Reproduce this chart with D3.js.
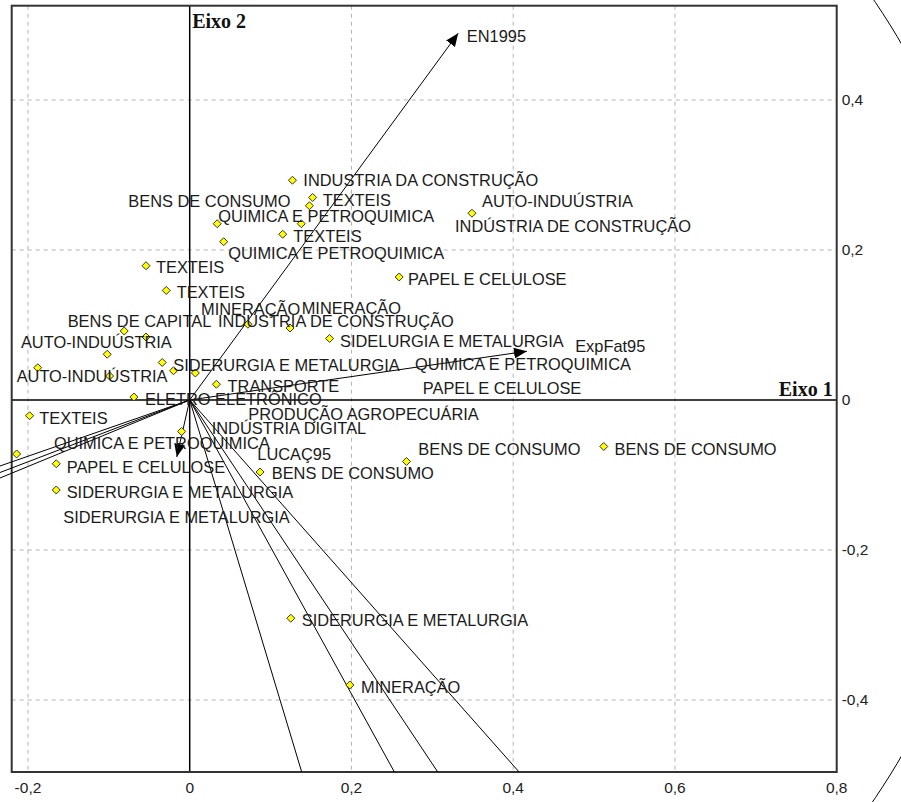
<!DOCTYPE html>
<html>
<head>
<meta charset="utf-8">
<script src="https://cdn.jsdelivr.net/npm/d3@7"></script>
<style>
  html, body { margin: 0; padding: 0; background: #fff; }
  svg { display: block; }
</style>
</head>
<body>
<script>
// Sector scores on the first two axes (Eixo 1, Eixo 2)
const sectorPoints = [
  [0.127, 0.293], [0.152, 0.270], [0.148, 0.259], [0.138, 0.235], [0.115, 0.221],
  [0.349, 0.249], [0.034, 0.235], [0.042, 0.211], [-0.054, 0.179], [-0.029, 0.146],
  [0.259, 0.164], [-0.081, 0.092], [-0.054, 0.084], [0.072, 0.101], [0.124, 0.096],
  [0.173, 0.082], [-0.102, 0.061], [-0.188, 0.043], [-0.099, 0.032], [-0.034, 0.050],
  [-0.020, 0.039], [0.007, 0.036], [0.033, 0.021], [-0.069, 0.004], [-0.198, -0.021],
  [-0.214, -0.072], [-0.010, -0.042], [-0.165, -0.085], [-0.165, -0.120], [0.087, -0.096],
  [0.268, -0.082], [0.512, -0.062], [0.125, -0.291], [0.198, -0.380]
];

// Sector names and where each name sits on the plane
const sectorNames = [
  "INDUSTRIA DA CONSTRUÇÃO", "BENS DE CONSUMO", "TEXTEIS", "AUTO-INDUÚSTRIA",
  "QUIMICA E PETROQUIMICA", "INDÚSTRIA DE CONSTRUÇÃO", "TEXTEIS", "QUIMICA E PETROQUIMICA",
  "TEXTEIS", "PAPEL E CELULOSE", "TEXTEIS", "MINERAÇÃO", "MINERAÇÃO", "BENS DE CAPITAL",
  "INDUSTRIA DE CONSTRUÇÃO", "AUTO-INDUÚSTRIA", "SIDELURGIA E METALURGIA",
  "SIDERURGIA E METALURGIA", "QUIMICA E PETROQUIMICA", "AUTO-INDUÚSTRIA", "TRANSPORTE",
  "PAPEL E CELULOSE", "ELETRO ELETRÔNICO", "PRODUÇÃO AGROPECUÁRIA", "TEXTEIS",
  "INDÚSTRIA DIGITAL", "QUIMICA E PETROQUIMICA", "BENS DE CONSUMO", "BENS DE CONSUMO",
  "PAPEL E CELULOSE", "BENS DE CONSUMO", "SIDERURGIA E METALURGIA",
  "SIDERURGIA E METALURGIA", "SIDERURGIA E METALURGIA", "MINERAÇÃO"
];
const sectorNamePos = [
  [0.1405, 0.2933], [-0.0759, 0.2653], [0.1645, 0.2667], [0.3615, 0.2653],
  [0.0354, 0.2457], [0.3281, 0.2320], [0.1281, 0.2191], [0.0477, 0.1956],
  [-0.0417, 0.1773], [0.2699, 0.1613], [-0.0161, 0.1436], [0.0140, 0.1213], [0.1385, 0.1227], [-0.1509, 0.1053],
  [0.0350, 0.1053], [-0.2087, 0.0777], [0.1859, 0.0791],
  [-0.0203, 0.0467], [0.2787, 0.0476], [-0.2140, 0.0324], [0.0468, 0.0193],
  [0.2882, 0.0164], [-0.0553, 0.0009], [0.0725, -0.0193], [-0.1860, -0.0244],
  [0.0272, -0.0377], [-0.1678, -0.0577], [0.2827, -0.0657], [0.5252, -0.0653],
  [-0.1521, -0.0889], [0.1014, -0.0977], [-0.1521, -0.1223],
  [-0.1563, -0.1556], [0.1385, -0.2933], [0.2119, -0.3831]
];

// Variable vectors drawn with arrowheads
const vectorNames = ["EN1995", "ExpFat95", "LUCAÇ95"];
const vectorTips = [[0.332, 0.489], [0.417, 0.065], [-0.016, -0.076]];
const vectorNamePos = [[0.3426, 0.4857], [0.4766, 0.0720], [0.0836, -0.0720]];

// Variable vectors whose heads fall outside the plotted window
const longVectorEnds = [
  [0.1385, -0.496], [0.2531, -0.496], [0.3067, -0.496], [0.4073, -0.496],
  [-0.2346, -0.088], [-0.2346, -0.0967], [-0.2346, -0.104]
];

// Axis ticks
const xTicks = [-0.2, 0, 0.2, 0.4, 0.6, 0.8];
const yTicks = [-0.4, -0.2, 0, 0.2, 0.4];

const W = 901, H = 802;
const fmt = v => v === 0 ? "0" : d3.format(".1f")(v).replace(".", ",").replace("−", "-");

const x = d3.scaleLinear().domain([-0.2201, 0.8]).range([11.7, 836.7]);
const y = d3.scaleLinear().domain([-0.496, 0.5257]).range([772, 5.7]);
const [x0, x1] = x.range();
const [y1, y0] = y.range();

const svg = d3.select("body").append("svg")
  .attr("width", W).attr("height", H)
  .style("font-family", "'Liberation Sans', Arial, sans-serif");

svg.append("rect").attr("width", W).attr("height", H).attr("fill", "#fff");

const defs = svg.append("defs");
defs.append("marker")
  .attr("id", "head")
  .attr("markerUnits", "userSpaceOnUse")
  .attr("viewBox", "0 -6 13 12")
  .attr("refX", 13).attr("refY", 0)
  .attr("markerWidth", 13).attr("markerHeight", 12)
  .attr("orient", "auto")
  .append("path").attr("d", "M0,-5.5L13,0L0,5.5Z").attr("fill", "#000");

// Grid lines
const grid = svg.append("g")
  .attr("stroke", "#b4b4b4").attr("stroke-width", 1).attr("stroke-dasharray", "4,4");
grid.selectAll("line.gx").data(xTicks.filter(t => t !== 0 && t !== 0.8)).join("line")
  .attr("x1", d => x(d)).attr("x2", d => x(d)).attr("y1", y0).attr("y2", y1);
grid.selectAll("line.gy").data(yTicks.filter(t => t !== 0)).join("line")
  .attr("x1", x0).attr("x2", x1).attr("y1", d => y(d)).attr("y2", d => y(d));

// Unit correlation circle
const circle = d3.line().x(d => x(d[0])).y(d => y(d[1]));
svg.append("path")
  .attr("d", circle(d3.range(0, 361, 1).map(a => [Math.cos(a * Math.PI / 180), Math.sin(a * Math.PI / 180)])))
  .attr("fill", "none").attr("stroke", "#000").attr("stroke-width", 1);

// Zero axes
svg.append("line").attr("x1", x0).attr("x2", x1).attr("y1", y(0)).attr("y2", y(0))
  .attr("stroke", "#000").attr("stroke-width", 1.5);
svg.append("line").attr("x1", x(0)).attr("x2", x(0)).attr("y1", y0).attr("y2", y1)
  .attr("stroke", "#000").attr("stroke-width", 1.5);

// Frame
svg.append("rect")
  .attr("x", x0).attr("y", y0).attr("width", x1 - x0).attr("height", y1 - y0)
  .attr("fill", "none").attr("stroke", "#333").attr("stroke-width", 2);

// Tick labels
svg.append("g").selectAll("text").data(xTicks).join("text")
  .attr("x", d => x(d)).attr("y", y1 + 15)
  .attr("text-anchor", "middle").attr("dominant-baseline", "central")
  .attr("font-size", 15.5).attr("fill", "#222")
  .text(fmt);
svg.append("g").selectAll("text").data(yTicks).join("text")
  .attr("x", x1 + 5).attr("y", d => y(d))
  .attr("text-anchor", "start").attr("dominant-baseline", "central")
  .attr("font-size", 15.5).attr("fill", "#222")
  .text(fmt);

// Axis titles
svg.append("text").attr("x", x(0) + 2.5).attr("y", 28)
  .attr("font-family", "'Liberation Serif', 'Times New Roman', serif")
  .attr("font-weight", "bold").attr("font-size", 20).attr("fill", "#111")
  .text("Eixo 2");
svg.append("text").attr("x", x1 - 4).attr("y", y(0) - 4)
  .attr("text-anchor", "end")
  .attr("font-family", "'Liberation Serif', 'Times New Roman', serif")
  .attr("font-weight", "bold").attr("font-size", 20).attr("fill", "#111")
  .text("Eixo 1");

// Vectors
const vec = svg.append("g").attr("stroke", "#000").attr("stroke-width", 1);
vec.selectAll("line.long").data(longVectorEnds).join("line")
  .attr("x1", x(0)).attr("y1", y(0))
  .attr("x2", d => x(d[0])).attr("y2", d => y(d[1]));
vec.selectAll("line.arrow").data(vectorTips).join("line")
  .attr("x1", x(0)).attr("y1", y(0))
  .attr("x2", d => x(d[0])).attr("y2", d => y(d[1]))
  .attr("marker-end", "url(#head)");

// Sector points
svg.append("g").selectAll("path").data(sectorPoints).join("path")
  .attr("transform", d => `translate(${x(d[0])},${y(d[1])})`)
  .attr("d", "M0,-4L4,0L0,4L-4,0Z")
  .attr("fill", "#ffff00").attr("stroke", "#333").attr("stroke-width", 1);

// Sector names
svg.append("g").selectAll("text").data(sectorNames).join("text")
  .attr("x", (d, i) => x(sectorNamePos[i][0]))
  .attr("y", (d, i) => y(sectorNamePos[i][1]))
  .attr("dominant-baseline", "central")
  .attr("font-size", 16.4).attr("fill", "#1a1a1a")
  .text(d => d);

// Vector names
svg.append("g").selectAll("text").data(vectorNames).join("text")
  .attr("x", (d, i) => x(vectorNamePos[i][0]))
  .attr("y", (d, i) => y(vectorNamePos[i][1]))
  .attr("dominant-baseline", "central")
  .attr("font-size", 16.4).attr("fill", "#1a1a1a")
  .text(d => d);
</script>
</body>
</html>
